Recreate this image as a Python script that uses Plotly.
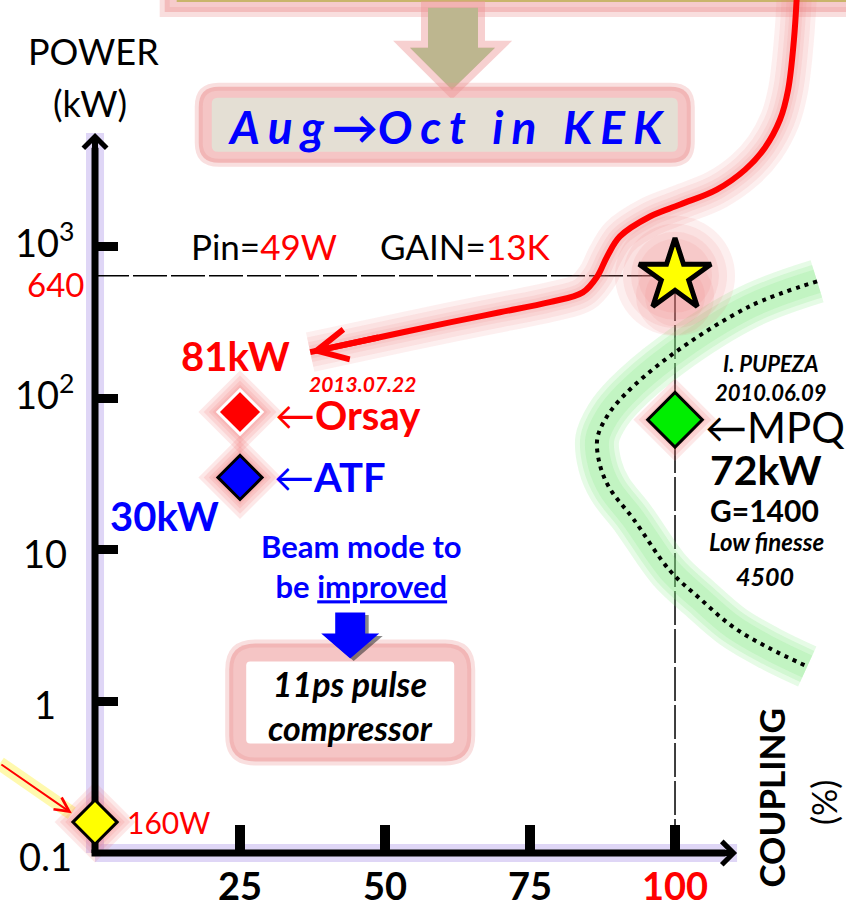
import numpy as np
import plotly.graph_objects as go

FONT = "Lato"

# ---------------- data ----------------
# cavities already measured: coupling (%) and stored power (kW)
sites = ["Orsay", "ATF", "MPQ"]
site_coupling = [25, 25, 100]
site_power_kw = [81, 30, 72]
site_fill = ["#ff0000", "#0000ff", "#00ee00"]
site_edge = ["#ffffff", "#000000", "#000000"]

# starting point (160 W) and goal (640 kW at full coupling)
start_coupling = [0]
start_power_kw = [0.16]
goal_coupling = [100]
goal_power_kw = [640]

# KEK schedule path (red curve), ends at the Orsay level
kek_coupling = [121.0, 120.5, 119.5, 118.1, 115.5, 112.1, 107.2, 100.9, 95.7,
                90.5, 88.3, 86.6, 84.1, 78.4, 69.8, 61.2, 49.1, 37.1]
kek_power_kw = [45000, 23000, 10800, 6850, 4480, 3210, 2370, 1890, 1575,
                1164, 859, 635, 498, 429, 368, 316, 252, 201]

# MPQ low-finesse trend (dotted curve)
mpq_trend_coupling = [124.5, 112.9, 99.1, 91.4, 88.3, 86.6, 87.1, 88.8, 92.8,
                      99.1, 104.3, 110.0, 116.4, 122.8]
mpq_trend_power_kw = [589, 403, 189, 106, 76, 54, 35.7, 25.2, 16.0,
                      7.3, 4.76, 3.1, 2.23, 1.7]

y_tick_vals = [1000, 100, 10, 1, 0.1]
y_tick_text = ["10<sup>3</sup>", "10<sup>2</sup>", "10", "1", "0.1"]
y_tick_bars = [1000, 100, 10, 1]
x_tick_vals = [25, 50, 75, 100]
x_tick_text = ["<b>25</b>", "<b>50</b>", "<b>75</b>",
               "<span style='color:#ff0000'><b>100</b></span>"]

# axis extents (arrow tips)
x_axis_end = 110.7
y_axis_end = 5600
y_axis_start = 0.1

W, H = 846, 908
x_range = [-16.38, 129.48]
y_range = [-1.349, 4.625]

fig = go.Figure()


def lg(v):
    return float(np.log10(v))


def add_marker_glow(x, y, symbol, sizes, rgb, alpha):
    for s in sizes:
        fig.add_trace(go.Scatter(
            x=x, y=y, mode="markers", hoverinfo="skip",
            marker=dict(symbol=symbol, size=s, opacity=1,
                        color=f"rgba({rgb},{alpha})", line=dict(width=0))))


def add_line_glow(x, y, widths, rgb, alpha):
    for w in widths:
        fig.add_trace(go.Scatter(
            x=x, y=y, mode="lines", hoverinfo="skip",
            line=dict(color=f"rgba({rgb},{alpha})", width=w,
                      shape="spline", smoothing=1)))


def rounded_box(w, h, r):
    x0, x1, y0, y1 = -w / 2, w / 2, -h / 2, h / 2
    return (f"M{x0 + r},{y0} L{x1 - r},{y0} Q{x1},{y0} {x1},{y0 + r} "
            f"L{x1},{y1 - r} Q{x1},{y1} {x1 - r},{y1} L{x0 + r},{y1} "
            f"Q{x0},{y1} {x0},{y1 - r} L{x0},{y0 + r} Q{x0},{y0} {x0 + r},{y0} Z")


def pixel_path(xa, ya, path, fill=None, line_color=None, line_width=0):
    return dict(type="path", xref="x", yref="y", xsizemode="pixel",
                ysizemode="pixel", xanchor=xa, yanchor=ya, path=path,
                fillcolor=fill if fill else "rgba(0,0,0,0)",
                line=dict(color=line_color if line_color else "rgba(0,0,0,0)",
                          width=line_width),
                layer="below")


shapes = []

# box at the top edge (continues above the page)
shapes.append(pixel_path(71.5, 42170, "M-345,-12 L400,-12 L400,120 L-345,120 Z",
                         fill="rgba(238,160,160,0.55)",
                         line_color="rgba(238,160,160,0.35)", line_width=10))
shapes.append(pixel_path(71.5, 42170, "M-333,-2 L400,-2 L400,120 L-333,120 Z",
                         fill="#c9b56a"))

# khaki arrow pointing to the schedule box
khaki_arrow = "M0,0 L-42,42 L-24,42 L-24,82 L26,82 L26,42 L43,42 Z"
shapes.append(pixel_path(61.55, 10790, khaki_arrow, fill="rgba(238,150,150,0.45)",
                         line_color="rgba(238,150,150,0.45)", line_width=14))
shapes.append(pixel_path(61.55, 10790, khaki_arrow, fill="#bdb68f"))

# "Aug -> Oct in KEK" box
shapes.append(pixel_path(60.3, 6350, rounded_box(492, 76, 20),
                         fill="rgba(236,150,150,0.55)",
                         line_color="rgba(236,150,150,0.3)", line_width=8))
shapes.append(pixel_path(60.3, 6350, rounded_box(466, 54, 6), fill="#e4dfd4"))

# "11ps pulse compressor" box
shapes.append(pixel_path(44.0, 0.985, rounded_box(242, 118, 26),
                         fill="rgba(236,150,150,0.55)",
                         line_color="rgba(236,150,150,0.3)", line_width=8))
shapes.append(pixel_path(44.0, 0.985, rounded_box(208, 82, 4), fill="#ffffff"))

# blue arrow towards the compressor box
blue_arrow = "M0,0 L-29,25 L-15,25 L-15,46 L15,46 L15,25 L29,25 Z"
shapes.append(pixel_path(44.6, 1.85, blue_arrow, fill="rgba(40,40,40,0.55)"))
shapes.append(pixel_path(44.0, 1.92, blue_arrow, fill="#0000ff"))

# axis glow
axis_glow = "rgba(185,165,235,0.45)"
shapes.append(dict(type="line", xref="x", yref="y", x0=0, x1=0,
                   y0=y_axis_start, y1=y_axis_end, layer="below",
                   line=dict(color=axis_glow, width=18)))
shapes.append(dict(type="line", xref="x", yref="y", x0=0, x1=x_axis_end,
                   y0=y_axis_start, y1=y_axis_start, layer="below",
                   line=dict(color=axis_glow, width=18)))

# guide lines to the goal
guide = dict(color="#000000", width=1.5, dash="34px,4px")
shapes.append(dict(type="line", xref="x", yref="y", x0=0, x1=goal_coupling[0],
                   y0=goal_power_kw[0], y1=goal_power_kw[0], layer="below", line=guide))
shapes.append(dict(type="line", xref="x", yref="y", x0=goal_coupling[0],
                   x1=goal_coupling[0], y0=y_axis_start, y1=goal_power_kw[0],
                   layer="below", line=guide))

# yellow glow along the incoming 160 W arrow
shapes.append(dict(type="line", xref="x", yref="y", x0=-16.4, x1=-4.0,
                   y0=0.39, y1=0.183, layer="below",
                   line=dict(color="rgba(255,245,120,0.6)", width=14)))

# ---------------- traces ----------------
# glows
add_line_glow(mpq_trend_coupling, mpq_trend_power_kw, [44, 34, 24], "130,235,130", 0.2)
add_line_glow(kek_coupling, kek_power_kw, [40, 30, 20, 13], "240,120,120", 0.12)
add_marker_glow(goal_coupling, goal_power_kw, "circle", [120, 104, 88, 74], "240,125,125", 0.12)
add_marker_glow(goal_coupling, [470], "circle", [78, 60], "240,125,125", 0.12)
add_marker_glow(site_coupling, site_power_kw, "diamond", [64, 56, 48, 42], "240,110,110", 0.16)
add_marker_glow(start_coupling, start_power_kw, "diamond", [62, 54, 46, 40], "240,110,110", 0.16)

# axis lines (tick bars come from the axes themselves)
fig.add_trace(go.Scatter(x=[0, 0], y=[y_axis_start, y_axis_end * 0.8], mode="lines",
                         hoverinfo="skip", line=dict(color="#000", width=7)))
fig.add_trace(go.Scatter(x=[-0.6, x_axis_end - 2], y=[y_axis_start, y_axis_start],
                         mode="lines", hoverinfo="skip", line=dict(color="#000", width=7)))

# curves
fig.add_trace(go.Scatter(x=mpq_trend_coupling, y=mpq_trend_power_kw, mode="lines",
                         hoverinfo="skip",
                         line=dict(color="#000", width=4, dash="4px,5px",
                                   shape="spline", smoothing=1)))
fig.add_trace(go.Scatter(x=kek_coupling, y=kek_power_kw, mode="lines", hoverinfo="skip",
                         line=dict(color="#ff0000", width=6, shape="spline", smoothing=1)))

# points
fig.add_trace(go.Scatter(x=site_coupling, y=site_power_kw, mode="markers",
                         text=sites, hoverinfo="skip",
                         marker=dict(symbol="diamond", size=[34, 34, 42], opacity=1,
                                     color=site_fill,
                                     line=dict(color=site_edge, width=3))))
fig.add_trace(go.Scatter(x=start_coupling, y=start_power_kw, mode="markers",
                         hoverinfo="skip",
                         marker=dict(symbol="diamond", size=34, color="#ffff00", opacity=1,
                                     line=dict(color="#000", width=3))))
fig.add_trace(go.Scatter(x=goal_coupling, y=goal_power_kw, mode="markers",
                         hoverinfo="skip",
                         marker=dict(symbol="star", size=54, color="#ffff00", opacity=1,
                                     line=dict(color="#000", width=5))))

# ---------------- annotations ----------------
ann = []


def arrow(x, y, ax, ay, color, width, head, size=1.0):
    ann.append(dict(x=x, y=lg(y), ax=ax, ay=lg(ay), xref="x", yref="y",
                    axref="x", ayref="y", text="", showarrow=True,
                    arrowhead=head, arrowsize=size, arrowwidth=width,
                    arrowcolor=color, standoff=0))


def label(x, y, text, size, color="#000000", **kw):
    ann.append(dict(x=x, y=lg(y), xref="x", yref="y", text=text, showarrow=False,
                    font=dict(family=FONT, size=size, color=color), **kw))


# axis arrowheads
arrow(0, y_axis_end, 0, 2500, "#000", 6, 4, 0.75)
arrow(x_axis_end, y_axis_start, 100, y_axis_start, "#000", 6, 4, 0.75)
# red curve arrowhead
arrow(kek_coupling[-1], kek_power_kw[-1], kek_coupling[-2], kek_power_kw[-2],
      "#ff0000", 6, 5, 1.0)
# incoming 160 W arrow
arrow(-4.0, 0.183, -16.4, 0.39, "#ff0000", 2, 5, 1.4)

# y tick labels, centred in the left margin
for v, t in zip(y_tick_vals, y_tick_text):
    label(-8.6, v, t, 38, yshift=(6 if "sup" in t else -3))
label(-6.8, 640, "640", 33, "#ff0000", yshift=-8)

label(-0.3, 19450, "POWER", 36)
label(-0.9, 8850, "(kW)", 36)
label(116.6, 0.230, "<b>COUPLING</b>", 35, textangle=-90)
label(125.5, 0.217, "(%)", 34, textangle=-90)

label(60.6, 6150,
      "<b><i>A\u2009\u200au\u2009\u200ag\u2009\u200a\u2192O\u2009\u200ac\u2009\u200at"
      "\u2002\u2009i\u2009\u200an\u2002\u2009K\u2009\u200aE\u2009\u200aK</i></b>",
      46, "#0000ff")

label(29.2, 1000, "Pin=<span style='color:#ff0000'>49W</span>", 35)
label(63.8, 1000, "GAIN=<span style='color:#ff0000'>13K</span>", 35)

label(24.3, 189, "<b>81kW</b>", 40, "#ff0000")
label(46.2, 124, "<b><i>2013.07.22</i></b>", 21, "#ff0000")
label(43.6, site_power_kw[0], "\u2190<b>Orsay</b>", 40, "#ff0000", yshift=-3)
label(40.5, site_power_kw[1], "\u2190<b>ATF</b>", 40, "#0000ff")
label(11.9, 16.7, "<b>30kW</b>", 40, "#0000ff")
label(45.9, 7.8, "<b>Beam mode to<br>be <u>improved</u></b>", 31, "#0000ff")
label(44.0, 0.94, "<b><i>11ps pulse<br>compressor</i></b>", 34)
label(12.6, start_power_kw[0], "160W", 30, "#ff0000")

label(116.6, 135, "<b><i>I. PUPEZA<br>2010.06.09</i></b>", 22)
label(117.2, site_power_kw[2], "\u2190MPQ", 42, yshift=-7)
label(115.7, 33.6, "<b>72kW</b>", 41)
label(115.5, 18.3, "<b>G=1400</b>", 30)
label(115.7, 11.4, "<b><i>Low finesse</i></b>", 24)
label(115.5, 6.75, "<b><i>4500</i></b>", 25)

fig.update_layout(
    width=W, height=H, margin=dict(l=0, r=0, t=0, b=0),
    paper_bgcolor="white", plot_bgcolor="white",
    showlegend=False, hovermode=False,
    shapes=shapes, annotations=ann,
    xaxis=dict(range=x_range, domain=[0, 1], anchor="free", position=(H - 855) / H,
               showgrid=False, zeroline=False, showline=False,
               ticks="inside", ticklen=28, tickwidth=10, tickcolor="#000",
               tickvals=x_tick_vals, ticktext=x_tick_text, ticklabelstandoff=8,
               tickfont=dict(family=FONT, size=38, color="#000")),
    yaxis=dict(type="log", range=y_range, domain=[0, 1], anchor="free", position=95 / W,
               showgrid=False, zeroline=False, showline=False,
               ticks="inside", ticklen=22, tickwidth=9, tickcolor="#000",
               tickvals=y_tick_bars, showticklabels=False),
)

fig.write_html("out.html", config={"displayModeBar": False})
